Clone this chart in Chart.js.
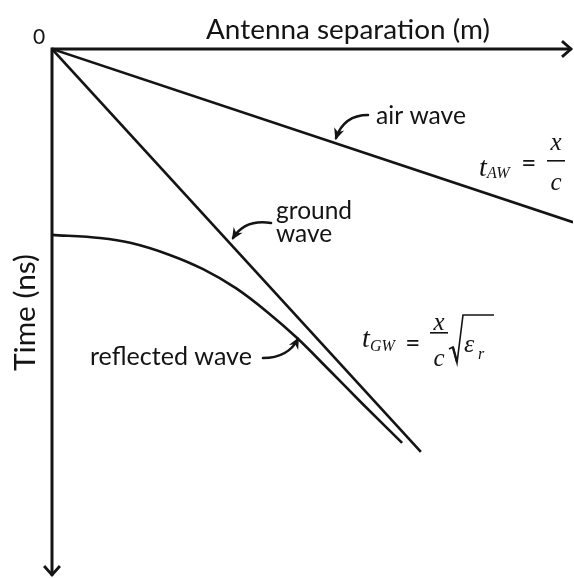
<!DOCTYPE html>
<html>
<head>
<meta charset="utf-8">
<script src="https://cdn.jsdelivr.net/npm/chart.js@4"></script>
<style>
html,body{margin:0;padding:0;background:#fff;}
#wrap{width:574px;height:578px;position:relative;}
</style>
</head>
<body>
<div id="wrap"><canvas id="c"></canvas></div>
<script>
// ---- data (x: antenna separation, m; y: time, ns) ----
const airX = [0, 10];
const airT = [0, 32.8];
const groundX = [0, 7.08];
const groundT = [0, 76.3];
const reflX = [0, 0.92, 1.50, 2.26, 2.90, 3.53, 4.13, 4.70, 5.32, 5.93, 6.72];
const reflT = [35.2, 35.8, 36.7, 39.0, 41.7, 45.3, 49.8, 54.7, 60.8, 66.9, 74.6];
const xTitle = 'Antenna separation (m)';
const yTitle = 'Time (ns)';
const originLabel = '0';
const seriesNames = ['air wave', 'ground wave', 'reflected wave'];

function pts(xs, ys){ return xs.map((x,i)=>({x:x, y:ys[i]})); }

const SANS = 'Lato, "Open Sans", sans-serif';
const SERIF = '"Liberation Serif", "DejaVu Serif", serif';
const INK = '#141414';

function fitText(ctx, text, family, weight, targetW, baseSize){
  ctx.font = weight + ' ' + baseSize + 'px ' + family;
  const w = ctx.measureText(text).width;
  const s = baseSize * targetW / w;
  ctx.font = weight + ' ' + s.toFixed(2) + 'px ' + family;
}

function arrowHead(ctx, tx, ty, angle, len, spread){
  ctx.beginPath();
  ctx.moveTo(tx + len*Math.cos(angle+spread), ty + len*Math.sin(angle+spread));
  ctx.lineTo(tx, ty);
  ctx.lineTo(tx + len*Math.cos(angle-spread), ty + len*Math.sin(angle-spread));
  ctx.stroke();
}

function curvedArrow(ctx, x0, y0, cx, cy, x1, y1){
  ctx.save();
  ctx.strokeStyle = INK; ctx.fillStyle = INK; ctx.lineWidth = 2.6; ctx.lineCap='round';
  ctx.beginPath(); ctx.moveTo(x0,y0); ctx.quadraticCurveTo(cx,cy,x1,y1); ctx.stroke();
  const a = Math.atan2(y1-cy, x1-cx);
  const L = 11, W = 0.5;
  ctx.beginPath();
  ctx.moveTo(x1 + 2*Math.cos(a), y1 + 2*Math.sin(a));
  ctx.lineTo(x1 - L*Math.cos(a-W), y1 - L*Math.sin(a-W));
  ctx.lineTo(x1 - 0.55*L*Math.cos(a), y1 - 0.55*L*Math.sin(a));
  ctx.lineTo(x1 - L*Math.cos(a+W), y1 - L*Math.sin(a+W));
  ctx.closePath(); ctx.fill();
  ctx.restore();
}

const decor = {
  id: 'decor',
  afterDraw(chart){
    const ctx = chart.ctx;
    const xs = chart.scales.x, ys = chart.scales.y;
    const X = v => xs.getPixelForValue(v);
    const Y = v => ys.getPixelForValue(v);
    const ox = X(0), oy = Y(0);
    const ex = X(xs.max), ey = Y(ys.max);
    const L = chart.chartArea.left, T = chart.chartArea.top;
    ctx.save();
    ctx.strokeStyle = INK; ctx.lineWidth = 3; ctx.lineCap = 'butt'; ctx.lineJoin='miter';
    ctx.beginPath(); ctx.moveTo(ox, oy); ctx.lineTo(ex-1.5, oy); ctx.stroke();
    ctx.beginPath(); ctx.moveTo(ox, oy-1.5); ctx.lineTo(ox, ey-1.5); ctx.stroke();
    ctx.lineWidth = 2.8;
    arrowHead(ctx, ex-2, oy, Math.PI, 12, 0.72);
    arrowHead(ctx, ox, ey-2, -Math.PI/2, 12, 0.72);

    ctx.fillStyle = INK; ctx.textBaseline = 'alphabetic'; ctx.textAlign = 'left';
    fitText(ctx, xTitle, SANS, 'normal', 284, 22);
    ctx.fillText(xTitle, L + 154, T - 10);
    ctx.font = 'normal 21px ' + SANS;
    ctx.fillText(originLabel, L - 19, T - 5);
    ctx.save();
    ctx.translate(L - 17, T + 322); ctx.rotate(-Math.PI/2);
    fitText(ctx, yTitle, SANS, 'normal', 117, 22);
    ctx.fillText(yTitle, 0, 0);
    ctx.restore();

    fitText(ctx, seriesNames[0], SANS, 'normal', 90, 20);
    ctx.fillText(seriesNames[0], L + 324, T + 75);
    const gw = seriesNames[1].split(' ');
    fitText(ctx, gw[0], SANS, 'normal', 76, 20);
    ctx.fillText(gw[0], L + 224, T + 170);
    ctx.fillText(gw[1], L + 224, T + 193);
    fitText(ctx, seriesNames[2], SANS, 'normal', 162, 20);
    ctx.fillText(seriesNames[2], L + 38, T + 316);

    curvedArrow(ctx, L+316, T+66, L+292, T+66, L+284, T+89);
    curvedArrow(ctx, L+219, T+174, L+193, T+170, L+181, T+189);
    curvedArrow(ctx, L+211, T+309, L+236, T+309, L+246, T+290);

    ctx.fillStyle = INK;
    // t_AW = x / c
    ctx.font = 'italic 28px ' + SERIF; ctx.fillText('t', L+427, T+127);
    ctx.font = 'italic 16px ' + SERIF; ctx.fillText('AW', L+435, T+129);
    ctx.font = 'bold 24px ' + SERIF; ctx.fillText('=', L+470, T+122);
    ctx.textAlign = 'center';
    ctx.font = 'italic 25px ' + SERIF; ctx.fillText('x', L+504, T+101);
    ctx.fillText('c', L+504, T+141);
    ctx.fillRect(L+495, T+111, 18, 1.6);
    // t_GW = x / c sqrt(eps_r)
    ctx.textAlign = 'left';
    ctx.font = 'italic 28px ' + SERIF; ctx.fillText('t', L+310, T+298);
    ctx.font = 'italic 16px ' + SERIF; ctx.fillText('GW', L+318, T+302);
    ctx.font = 'bold 24px ' + SERIF; ctx.fillText('=', L+354, T+302);
    ctx.textAlign = 'center';
    ctx.font = 'italic 25px ' + SERIF; ctx.fillText('x', L+387, T+281);
    ctx.fillText('c', L+387, T+317);
    ctx.fillRect(L+378, T+283, 18, 1.6);
    ctx.lineWidth = 1.6; ctx.lineJoin = 'miter';
    ctx.beginPath();
    ctx.moveTo(L+397, T+300); ctx.lineTo(L+401, T+298); ctx.lineTo(L+405, T+314);
    ctx.lineTo(L+411, T+266); ctx.lineTo(L+442, T+266); ctx.stroke();
    ctx.lineWidth = 2.4;
    ctx.beginPath(); ctx.moveTo(L+401, T+298.5); ctx.lineTo(L+405, T+313); ctx.stroke();
    ctx.textAlign = 'left';
    ctx.font = 'italic 26px ' + SERIF; ctx.fillText('\u03B5', L+412, T+303);
    ctx.font = 'italic 16px ' + SERIF; ctx.fillText('r', L+426, T+310);
    ctx.restore();
  }
};

const common = { showLine:true, pointRadius:0, pointHoverRadius:0, borderColor:INK, borderWidth:2.6, fill:false };
new Chart(document.getElementById('c'), {
  type: 'scatter',
  data: { datasets: [
    Object.assign({ label: seriesNames[0], data: pts(airX, airT) }, common),
    Object.assign({ label: seriesNames[1], data: pts(groundX, groundT) }, common),
    Object.assign({ label: seriesNames[2], data: pts(reflX, reflT), cubicInterpolationMode:'monotone' }, common)
  ]},
  options: {
    responsive: true, maintainAspectRatio: false, animation: false,
    layout: { padding: { left: 52, top: 49, right: 1, bottom: 1 } },
    plugins: { legend: { display:false }, tooltip: { enabled:false } },
    events: [],
    scales: {
      x: { type:'linear', min:0, max:10, display:false },
      y: { type:'linear', min:0, max:100, reverse:true, display:false }
    }
  },
  plugins: [decor]
});
</script>
</body>
</html>
